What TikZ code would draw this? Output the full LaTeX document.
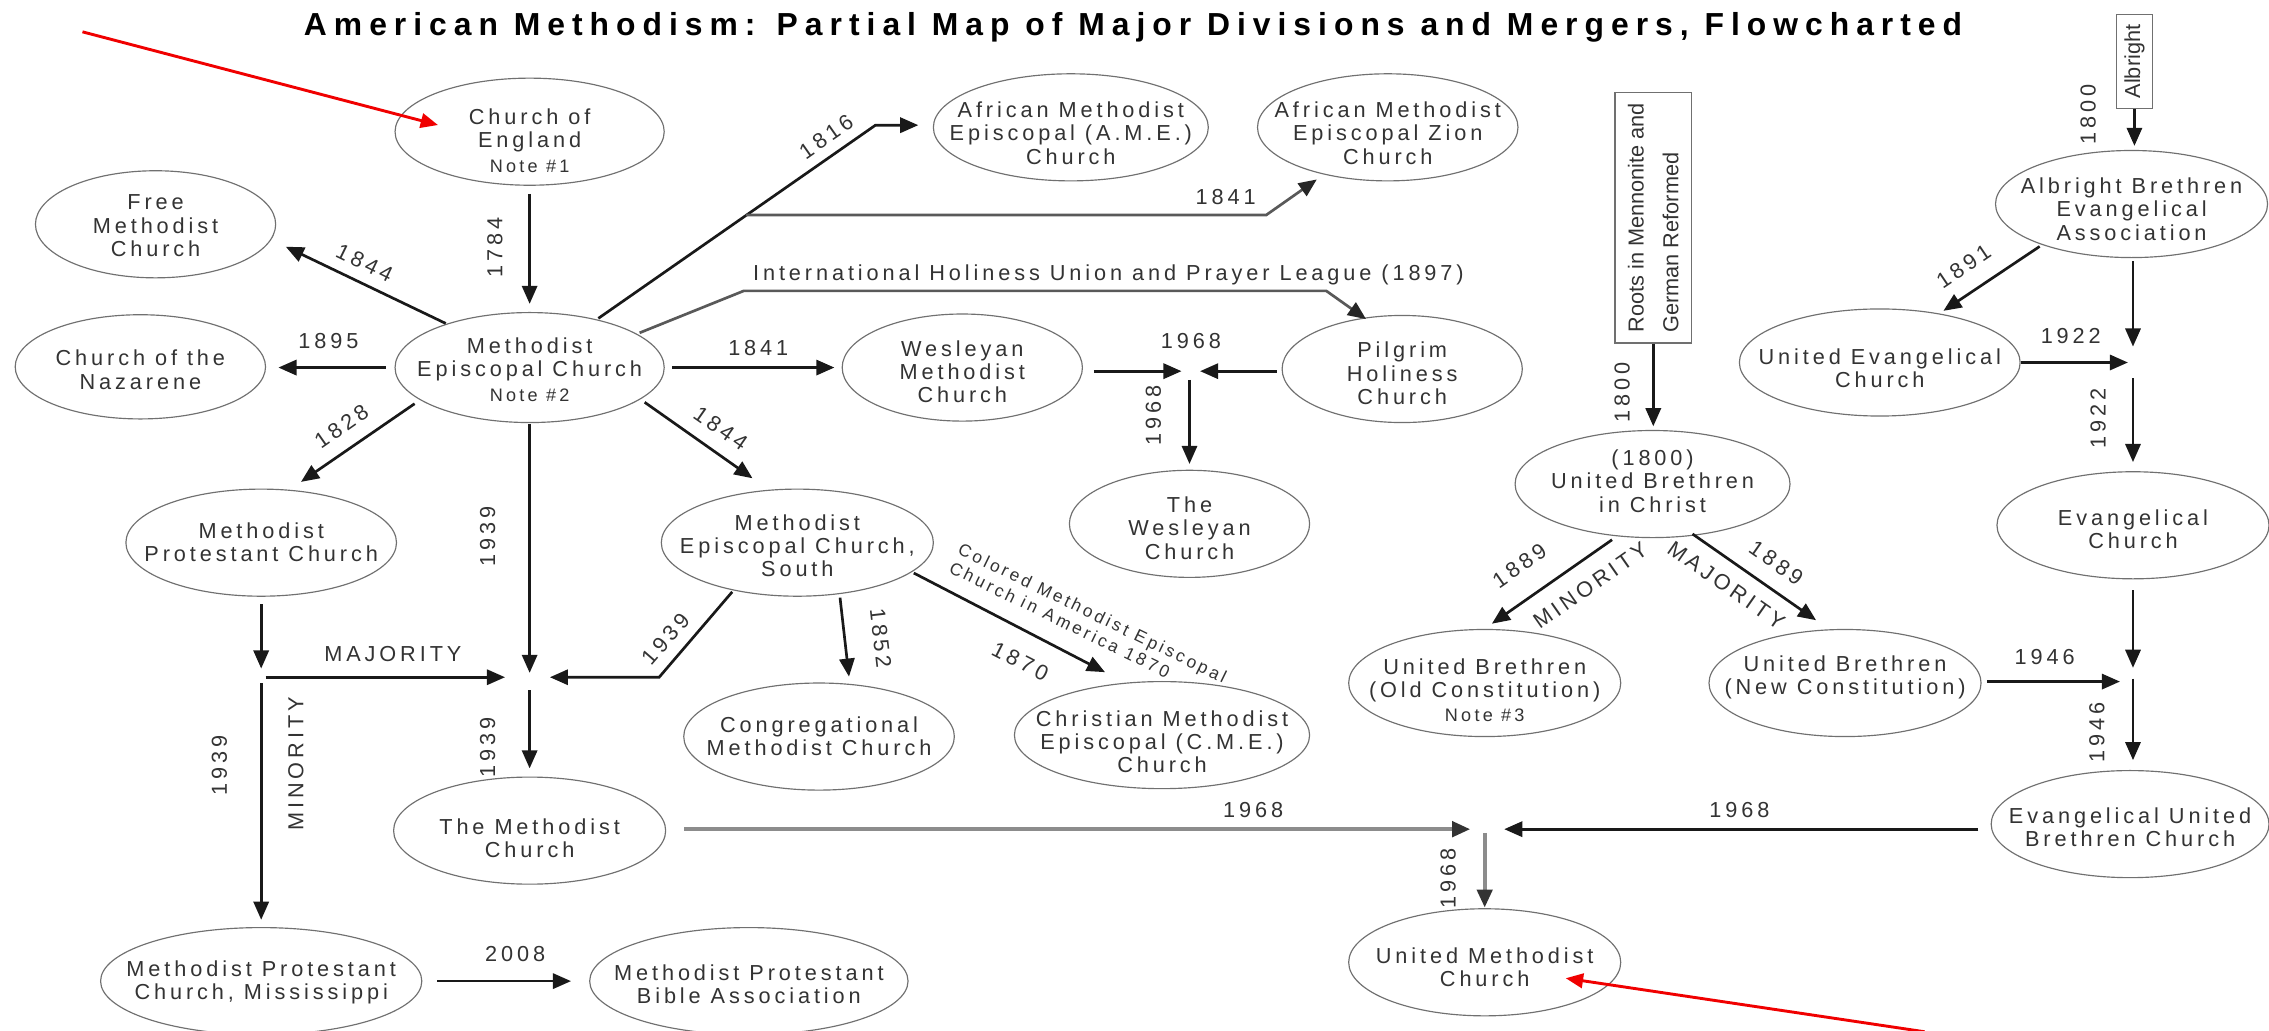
\documentclass[tikz,border=0pt]{standalone}
\usepackage{fontspec}
\setmainfont{Liberation Sans}
\usetikzlibrary{shapes.geometric,arrows.meta,calc}
\definecolor{txt}{HTML}{333333}
\definecolor{edge}{HTML}{707070}
\definecolor{redarrow}{HTML}{F00000}
\definecolor{lgray}{HTML}{8C8C8C}
\newcommand{\nfont}{\fontsize{15}{16}\selectfont\addfontfeature{LetterSpace=18}}
\newcommand{\notefont}{\fontsize{12.5}{14}\selectfont\addfontfeature{LetterSpace=18}}
\newcommand{\cfont}{\fontsize{12}{14}\selectfont\addfontfeature{LetterSpace=18}}
\newcommand{\bfont}{\fontsize{15}{24}\selectfont}
\newcommand{\tfont}{\fontsize{22}{26}\bfseries\selectfont\addfontfeature{LetterSpace=22}}
\tikzset{
  ell/.style={ellipse, draw=edge, line width=0.8pt, inner sep=0pt},
  etext/.style={align=center, text=txt, font=\nfont, inner sep=0pt},
  lbl/.style={text=txt, font=\nfont, inner sep=0pt},
  arr/.style={line width=1.85pt, draw=black!90, -{Triangle[length=12.5pt,width=10.5pt]}},
  arrg/.style={line width=1.85pt, draw=black!65, -{Triangle[length=12.5pt,width=10.5pt,color=black!85]}},
  arrl/.style={line width=2.8pt, draw=lgray, -{Triangle[length=12.5pt,width=10.5pt,color=black!80]}},
  redarr/.style={line width=2pt, draw=redarrow, -{Triangle[length=12pt,width=10pt]}},
  boxnode/.style={draw=edge, line width=0.8pt, inner sep=0pt}
}
\newcommand{\enode}[7]{%
  \node[ell, minimum width=#4pt, minimum height=#5pt] (#1) at (#2,#3) {};
  \node[etext] (#1-t) at ($(#1)+(0,#6)$) {#7};
}
\begin{document}
\begin{tikzpicture}[x=1pt,y=-1pt]
\useasboundingbox (0,0) rectangle (1568,712);
\fill[white] (0,0) rectangle (1568,712);

% title
\node[font=\tfont, anchor=base, inner sep=0pt] (title) at (783,24.2) {American Methodism: Partial Map of Major Divisions and Mergers, Flowcharted};

% nodes
\enode{coe}{366}{91}{186}{74}{6}{Church of\\England\\[1pt]{\notefont Note \#1}}
\enode{free}{107.5}{155}{166}{74}{1}{Free\\Methodist\\Church}
\enode{naz}{97}{253.5}{173}{72}{2}{Church of the\\Nazarene}
\enode{mec}{366}{254}{186}{76}{1.5}{Methodist\\Episcopal Church\\[1pt]{\notefont Note \#2}}
\enode{ame}{740}{88}{190}{74}{4}{African Methodist\\Episcopal (A.M.E.)\\Church}
\enode{amez}{959}{88}{180}{74}{4}{African Methodist\\Episcopal Zion\\Church}
\enode{wmc}{665}{254}{166}{74}{3}{Wesleyan\\Methodist\\Church}
\enode{phc}{969}{255}{166}{74}{3}{Pilgrim\\Holiness\\Church}
\enode{twc}{822}{362}{166}{74}{3}{The\\Wesleyan\\Church}
\enode{mpc}{180.5}{375}{187}{74}{0}{Methodist\\Protestant Church}
\enode{mecs}{551}{375}{188}{74}{2}{Methodist\\Episcopal Church,\\South}
\enode{cmc}{566}{509}{187}{74}{0}{Congregational\\Methodist Church}
\enode{cme}{803}{508}{204}{74}{4.5}{Christian Methodist\\Episcopal (C.M.E.)\\Church}
\enode{tmc}{366}{574}{188}{74}{5}{The Methodist\\Church}
\enode{mpm}{180.5}{678}{222}{74}{1}{Methodist Protestant\\Church, Mississippi}
\enode{mpba}{517.5}{678}{220}{74}{2}{Methodist Protestant\\Bible Association}
\enode{ubic}{1142}{334.5}{190}{74}{-2}{(1800)\\United Brethren\\in Christ}
\enode{ubo}{1026}{472}{188}{74}{5}{United Brethren\\(Old Constitution)\\[1pt]{\notefont Note \#3}}
\enode{ubn}{1275}{472}{188}{74}{-4}{United Brethren\\(New Constitution)}
\enode{abea}{1473}{141}{188}{74}{3.5}{Albright Brethren\\Evangelical\\Association}
\enode{uec}{1299}{250.5}{194}{74}{4}{United Evangelical\\Church}
\enode{ec}{1474}{363}{188}{74}{2.5}{Evangelical\\Church}
\enode{eub}{1472}{569.5}{192}{74}{2}{Evangelical United\\Brethren Church}
\enode{umc}{1026}{665}{188}{74}{3.5}{United Methodist\\Church}

% boxes
\node[boxnode, minimum width=53pt, minimum height=173pt] (roots) at (1142.5,150.5) {};
\node[rotate=90, align=left, font=\bfont, text=txt, inner sep=0pt] (roots-t) at (roots) {Roots in Mennonite and\\German Reformed};
\node[boxnode, minimum width=25pt, minimum height=65pt] (alb) at (1475,42.5) {};
\node[rotate=90, font=\bfont, text=txt, inner sep=0pt] (alb-t) at (alb) {Albright};

% junctions and bends
\coordinate (j1) at (822,256.5);
\coordinate (j2) at (366,468);
\coordinate (j3) at (180.5,467);
\coordinate (j4) at (1474,250.5);
\coordinate (j5) at (1474,471);
\coordinate (j6) at (1026,573);
\coordinate (k1) at (605,86.5);
\coordinate (br) at (515.5,148.6);
\coordinate (k2) at (875,148.6);
\coordinate (k3) at (514,201);
\coordinate (k4) at (916.5,201);
\coordinate (k5) at (455.5,468);
\coordinate (r1) at (57,22);
\coordinate (r2) at (1330,713);

% Church of England -> MEC
\draw[arr] ($(coe)+(0,43)$) -- ($(mec)+(0,-44)$);
\node[lbl, rotate=90] at (342,171) {1784};
% MEC -> Free Methodist
\draw[arr] ($(mec)+(-58,-30.5)$) -- ($(free)+(90,15.5)$);
\node[lbl, rotate=-26] at (252,182) {1844};
% MEC -> Nazarene
\draw[arr] ($(mec.west)+(-6,0)$) -- ($(naz.east)+(8.5,0.5)$);
\node[lbl] at (227,236) {1895};
% MEC -> AME
\draw[arr] ($(mec)+(47.5,-34)$) -- (k1) -- ($(ame.west)+(-10,-1.5)$);
\node[lbl, rotate=35] at (571,94.5) {1816};
% -> AME Zion
\draw[arrg] (br) -- (k2) -- ($(amez)+(-49,36)$);
\node[lbl] at (847,136.5) {1841};
% MEC -> Pilgrim Holiness
\draw[arrg] ($(mec)+(76,-24)$) -- (k3) -- (k4) -- ($(phc)+(-25,-34.5)$);
\node[lbl] at (766,190) {International Holiness Union and Prayer League (1897)};
% MEC -> Wesleyan Methodist
\draw[arr] ($(mec.east)+(5,0)$) -- ($(wmc.west)+(-5,0)$);
\node[lbl] at (524,240.5) {1841};
% 1968 Wesleyan merger
\draw[arr] ($(wmc.east)+(7.6,2.5)$) -- ($(j1)+(-5.5,0)$);
\draw[arr] ($(phc.west)+(-3.4,1.5)$) -- ($(j1)+(7.3,0)$);
\node[lbl] at (823,236) {1968};
\draw[arr] ($(j1)+(0,6)$) -- ($(twc.north)+(0,-4)$);
\node[lbl, rotate=90] at (797,287) {1968};
% MEC -> Methodist Protestant
\draw[arr] ($(mec)+(-79.5,25)$) -- ($(mpc)+(27.5,-42)$);
\node[lbl, rotate=35] at (236,294.5) {1828};
% MEC -> MEC South
\draw[arr] ($(mec)+(79.5,24)$) -- ($(mecs)+(-31,-44.5)$);
\node[lbl, rotate=-35] at (498,296) {1844};
% MEC -> 1939
\draw[arr] ($(mec.south)+(0,0.6)$) -- ($(j2)+(0,-3)$);
\node[lbl, rotate=90] at (337,371) {1939};
% MPC split
\draw[arr] ($(mpc.south)+(0,5)$) -- ($(j3)+(0,-5)$);
\draw[arr] ($(j3)+(3,1)$) -- ($(j2)+(-17,0)$);
\node[lbl] at (271.5,452) {MAJORITY};
\draw[arr] ($(j3)+(0,5)$) -- ($(mpm.north)+(0,-5)$);
\node[lbl, rotate=90] at (151.6,529) {1939};
\node[lbl, rotate=90] at (204.5,528) {MINORITY};
% MEC South -> 1939
\draw[arr] ($(mecs)+(-45,34)$) -- (k5) -- ($(j2)+(14,0)$);
\node[lbl, rotate=49] at (460,441.7) {1939};
\draw[arr] ($(j2)+(0,9)$) -- ($(tmc.north)+(0,-5.6)$);
\node[lbl, rotate=90] at (337,516.7) {1939};
% MEC South -> Congregational
\draw[arr] ($(mecs)+(29.5,38)$) -- ($(cmc)+(20.7,-41.4)$);
\node[lbl, rotate=-83.5] at (608.6,441) {1852};
% MEC South -> CME
\draw[arr] ($(mecs)+(80.5,21)$) -- ($(cme)+(-39.4,-43.5)$);
\node[lbl, rotate=-27] at (705,457) {1870};
\node[text=txt, font=\cfont, align=left, rotate=-26, inner sep=0pt] at (752,430) {Colored Methodist Episcopal\\Church in America 1870};
% 1968 United Methodist merger
\draw[arrl] ($(tmc.east)+(12.6,-1)$) -- ($(j6)+(-10,0)$);
\node[lbl] at (866,560) {1968};
\draw[arr] ($(eub.west)+(-8.4,3.5)$) -- ($(j6)+(13.5,0)$);
\node[lbl] at (1202,560) {1968};
\draw[arrl] ($(j6)+(0,2.5)$) -- ($(umc.north)+(0,-0.4)$);
\node[lbl, rotate=90] at (1000.7,607) {1968};
% MP Mississippi -> Bible Association
\draw[arr] ($(mpm.east)+(10.4,0)$) -- ($(mpba.west)+(-12.5,0)$);
\node[lbl] at (356,659) {2008};
% Roots -> United Brethren
\draw[arr] (roots.south) -- ($(roots.south |- ubic.north)+(0,-2.5)$);
\node[lbl, rotate=90] at (1121,271) {1800};
% United Brethren split
\draw[arr] ($(ubic)+(-28,38.5)$) -- ($(ubo)+(5,-41)$);
\node[lbl, rotate=35] at (1050,391) {1889};
\node[lbl, rotate=35] at (1099,404.5) {MINORITY};
\draw[arr] ($(ubic)+(27.6,34.5)$) -- ($(ubn)+(-20,-43.4)$);
\node[lbl, rotate=-35] at (1193,404.5) {MAJORITY};
\node[lbl, rotate=-35] at (1227.5,389) {1889};
% 1946
\draw[arr] ($(ubn.east)+(3.6,-1)$) -- ($(j5)+(-9,0)$);
\node[lbl] at (1413,454) {1946};
\draw[arr] ($(j5 |- ec.south)+(0,7.5)$) -- ($(j5)+(0,-9.5)$);
\draw[arr] ($(j5)+(0,-2)$) -- ($(j5 |- eub.north)+(0,-6.8)$);
\node[lbl, rotate=90] at (1449,506) {1946};
% Albright
\draw[arr] (alb.south) -- ($(alb.south |- abea.north)+(0,-2.8)$);
\node[lbl, rotate=90] at (1443,79) {1800};
\draw[arr] ($(abea)+(-63.5,29.3)$) -- ($(uec)+(44,-35.7)$);
\node[lbl, rotate=34] at (1357,184) {1891};
\draw[arr] ($(j4 |- abea.south)+(0,2)$) -- ($(j4)+(0,-11)$);
\node[lbl] at (1431,232) {1922};
\draw[arr] (uec.east) -- ($(j4)+(-3.5,0)$);
\draw[arr] ($(j4)+(0,11)$) -- ($(j4 |- ec.north)+(0,-6.3)$);
\node[lbl, rotate=90] at (1450,289) {1922};

% red pointer arrows
\draw[redarr] (r1) -- ($(coe)+(-63.3,-4.6)$);
\draw[redarr] (r2) -- ($(umc)+(56,11)$);
\end{tikzpicture}
\end{document}
